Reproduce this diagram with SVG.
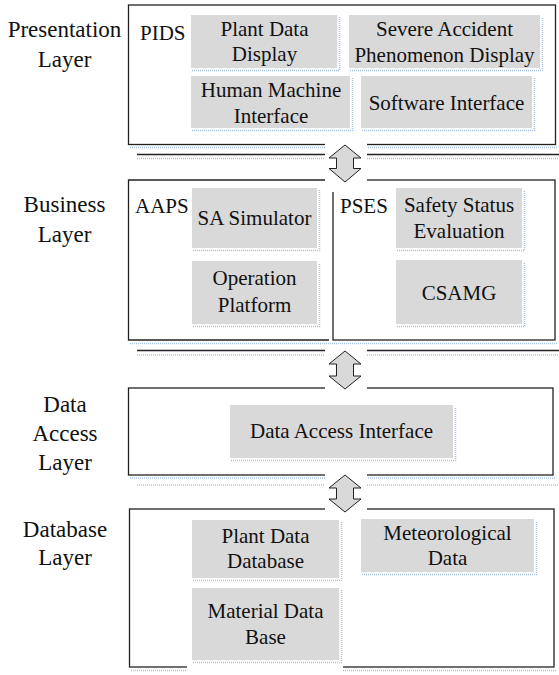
<svg xmlns="http://www.w3.org/2000/svg" width="559" height="675" viewBox="0 0 559 675">
<style>
.bg{fill:#ffffff}
.frame{fill:none;stroke:#222;stroke-width:1.3}
.line{fill:none;stroke:#222;stroke-width:1.3}
.sh{fill:none;stroke:#a9c3e3;stroke-width:1.5;stroke-dasharray:1 1}
.box{fill:#d9d9d9}
.mask{fill:#ffffff}
.arrow{fill:#d9d9d9;stroke:#222;stroke-width:1}
text{font-family:"Liberation Serif","Times New Roman",serif;fill:#111}
.lab{font-size:23px;text-anchor:middle}
.t{font-size:21px;text-anchor:middle}
.tl{font-size:21px}
</style>
<rect class="bg" x="0" y="0" width="559" height="675"/>

<!-- layer labels -->
<g id="label-presentation">
<text class="lab" x="64.5" y="37">Presentation</text>
<text class="lab" x="64.5" y="67">Layer</text>
</g>
<g id="label-business">
<text class="lab" x="64.5" y="212">Business</text>
<text class="lab" x="64.5" y="242">Layer</text>
</g>
<g id="label-data-access">
<text class="lab" x="65" y="412">Data</text>
<text class="lab" x="65" y="441">Access</text>
<text class="lab" x="65" y="470">Layer</text>
</g>
<g id="label-database">
<text class="lab" x="65" y="537">Database</text>
<text class="lab" x="65" y="565">Layer</text>
</g>

<!-- layer frames -->
<g id="presentation-layer">
<rect class="frame" x="128.5" y="5" width="427" height="139.5"/>
<path class="sh" d="M130 147.5H557"/>
<path class="line" d="M137 154.5H559"/>
<path class="sh" d="M137 158.5H559"/>
</g>
<g id="aaps">
<path class="frame" d="M329 340H128.5V180H329"/>
</g>
<g id="pses">
<rect class="frame" x="333" y="180" width="222" height="160"/>
<path class="sh" d="M130 343.5H557"/>
<path class="line" d="M137 350.5H559"/>
<path class="sh" d="M137 355H559"/>
</g>
<g id="data-access-layer">
<rect class="frame" x="128.5" y="388" width="424.5" height="87"/>
<path class="sh" d="M130 478H555"/>
<path class="sh" d="M137 485H559"/>
</g>
<g id="database-layer">
<rect class="frame" x="129.5" y="509" width="424.5" height="158"/>
<path class="sh" d="M131 670.5H556"/>
</g>

<!-- white backgrounds of arrow frames / text frames -->
<rect class="mask" x="325" y="142" width="42" height="50"/>
<rect class="mask" x="325" y="346" width="42" height="45"/>
<rect class="mask" x="325" y="472" width="42" height="40"/>
<rect class="mask" x="187" y="584" width="156" height="88"/>

<!-- presentation nodes -->
<g id="pids">
<text class="tl" x="140" y="40">PIDS</text>
</g>
<g id="plant-data-display">
<rect class="box" x="191" y="15" width="146" height="53"/>
<path class="sh" d="M192 70.5H339.5V17"/>
<text class="t" x="264.5" y="36">Plant Data</text>
<text class="t" x="264.5" y="61">Display</text>
</g>
<g id="severe-accident-display">
<rect class="box" x="349" y="15" width="191" height="53"/>
<path class="sh" d="M350 70.5H542.5V17"/>
<text class="t" x="444.5" y="36">Severe Accident</text>
<text class="t" x="444.5" y="61.5">Phenomenon Display</text>
</g>
<g id="human-machine-interface">
<rect class="box" x="191" y="76" width="159" height="52"/>
<path class="sh" d="M192 130.5H352.5V78"/>
<text class="t" x="271" y="97">Human Machine</text>
<text class="t" x="271" y="122.5">Interface</text>
</g>
<g id="software-interface">
<rect class="box" x="361" y="76" width="171" height="52"/>
<path class="sh" d="M362 130.5H534.5V78"/>
<text class="t" x="446.5" y="110">Software Interface</text>
</g>

<!-- business nodes -->
<g id="aaps-label">
<text class="tl" x="135" y="213">AAPS</text>
</g>
<g id="sa-simulator">
<rect class="box" x="192" y="188" width="125" height="60"/>
<path class="sh" d="M193 250.5H319.5V190"/>
<text class="t" x="254.5" y="225">SA Simulator</text>
</g>
<g id="operation-platform">
<rect class="box" x="192" y="261" width="125" height="63"/>
<path class="sh" d="M193 326.5H319.5V263"/>
<text class="t" x="254.5" y="285">Operation</text>
<text class="t" x="254.5" y="312">Platform</text>
</g>
<g id="pses-label">
<text class="tl" x="340" y="213">PSES</text>
</g>
<g id="safety-status-evaluation">
<rect class="box" x="396" y="188" width="126" height="60"/>
<path class="sh" d="M397 250.5H524.5V190"/>
<text class="t" x="459" y="212">Safety Status</text>
<text class="t" x="459" y="238">Evaluation</text>
</g>
<g id="csamg">
<rect class="box" x="396" y="260" width="126" height="64"/>
<path class="sh" d="M397 326.5H524.5V262"/>
<text class="t" x="459" y="300">CSAMG</text>
</g>

<!-- data access node -->
<g id="data-access-interface">
<rect class="box" x="230" y="405" width="223" height="53"/>
<path class="sh" d="M231 460.5H455.5V407"/>
<text class="t" x="341.5" y="438">Data Access Interface</text>
</g>

<!-- database nodes -->
<g id="plant-data-database">
<rect class="box" x="192" y="520" width="147" height="58"/>
<path class="sh" d="M193 580.5H341.5V522"/>
<text class="t" x="265.5" y="543">Plant Data</text>
<text class="t" x="265.5" y="568">Database</text>
</g>
<g id="material-data-base">
<rect class="box" x="192" y="588" width="147" height="72"/>
<path class="sh" d="M193 662.5H341.5V590"/>
<text class="t" x="265.5" y="618">Material Data</text>
<text class="t" x="265.5" y="644">Base</text>
</g>
<g id="meteorological-data">
<rect class="box" x="361" y="519" width="173" height="53"/>
<path class="sh" d="M362 574.5H536.5V521"/>
<text class="t" x="447.5" y="540">Meteorological</text>
<text class="t" x="447.5" y="565">Data</text>
</g>

<!-- connectors: double-headed block arrows -->
<g id="connectors">
<polygon class="arrow" points="345,145 361,158 353.5,158 353.5,168.5 361,168.5 345,182 329,168.5 336.5,168.5 336.5,158 329,158"/>
<polygon class="arrow" points="345,351 361,364 353.5,364 353.5,376 361,376 345,389 329,376 336.5,376 336.5,364 329,364"/>
<polygon class="arrow" points="345,475 361,488 353.5,488 353.5,499 361,499 345,512 329,499 336.5,499 336.5,488 329,488"/>
</g>
</svg>
